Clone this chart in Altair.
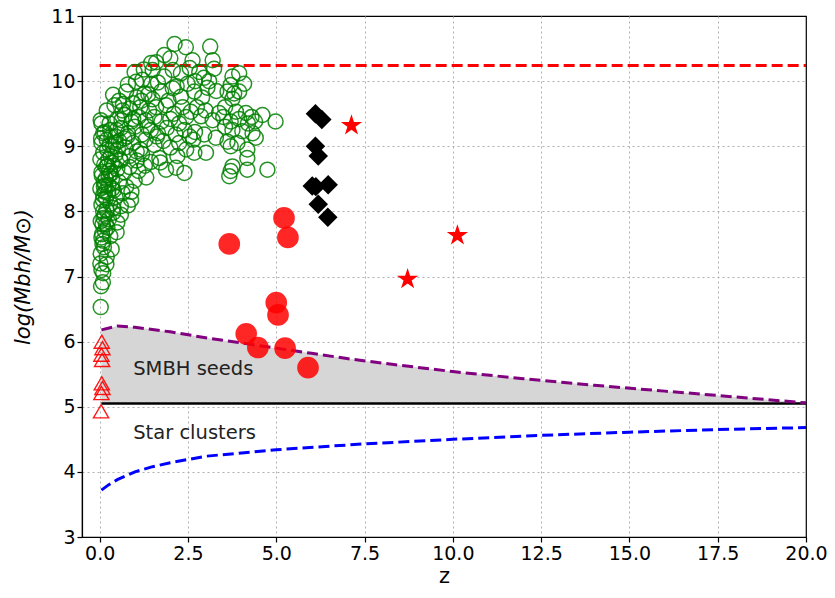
import altair as alt
import pandas as pd

# ---------------- data ----------------
# green open circles (quasar sample): redshift z, log mass
green_z = [
    2.12, 2.44, 3.13,
    1.83, 1.60, 2.63, 3.20, 1.46, 2.00,
    0.99, 1.25, 1.50, 2.07, 2.30, 2.82, 3.24, 1.83, 2.55, 2.95, 3.95, 3.76, 3.10,
    1.03, 1.21, 1.46, 2.49, 2.70, 4.09, 3.71, 0.80, 1.65, 2.18, 3.05,
    0.38, 0.75, 1.27, 1.74, 2.07, 2.30, 2.68, 3.62, 3.81, 3.95, 3.76, 0.55, 1.05, 1.50, 2.90, 3.30, 1.95,
    0.42, 0.94, 1.15, 1.88, 2.35, 0.20, 0.65, 1.40, 1.60, 2.10, 2.58, 2.75, 3.38, 3.86, 4.14, 3.55, 4.30, 3.00,
    0.28, 0.50, 0.71, 0.90, 1.10, 1.30, 1.55, 1.75, 2.00, 2.25, 2.45, 2.87, 3.20, 3.71, 3.95, 4.61, 4.98, 4.40, 3.50, 4.20,
    0.10, 0.30, 0.45, 0.60, 0.80, 1.00, 1.20, 1.45, 1.65, 1.90, 2.15, 2.40, 2.70, 2.96, 3.76, 4.04, 4.33, 3.55, 2.55, 1.35,
    0.05, 0.20, 0.38, 0.55, 0.72, 0.95, 1.15, 1.30, 1.55, 1.80, 2.00, 2.25, 2.45, 2.65, 3.29, 3.62, 3.71, 4.42, 4.18, 3.90,
    0.10, 0.25, 0.45, 0.60, 0.85, 1.05, 1.20, 1.69, 1.45, 2.68, 3.01, 4.18, 2.20, 0.35,
    0.05, 0.18, 0.32, 0.50, 0.70, 0.99, 1.32, 1.88, 2.16, 2.40, 3.71, 3.67, 4.18, 4.75, 3.76, 0.85, 1.10,
    0.02, 0.12, 0.25, 0.40, 0.55, 0.75, 0.90, 0.15, 0.35, 0.65,
    0.05, 0.18, 0.30, 0.45, 0.60, 0.89, 0.80, 0.10, 0.38,
    0.03, 0.14, 0.26, 0.50, 0.38, 0.08, 0.60,
    0.05, 0.15, 0.30, 0.48, 0.10, 0.22,
    0.03, 0.12, 0.34, 0.20, 0.08,
    0.05, 0.19, 0.10, 0.02,
    0.09, 0.04,
    0.03,
    # extra points in the dense column near z ~ 0.1
    0.06, 0.13, 0.21, 0.04, 0.16, 0.27, 0.09, 0.19, 0.02, 0.24, 0.11, 0.31, 0.07, 0.17,
    0.28, 0.14, 0.05, 0.22, 0.33, 0.10, 0.26, 0.03, 0.18, 0.40, 0.12, 0.36, 0.45, 0.52,
    0.62, 0.70, 0.58, 0.48, 0.66, 0.78, 0.85, 0.95, 1.05, 1.18, 1.28, 1.38, 1.62, 1.72,
]
green_m = [
    10.57, 10.52, 10.53,
    10.40, 10.29, 10.32, 10.32, 10.28, 10.35,
    10.14, 10.18, 10.17, 10.17, 10.12, 10.14, 10.19, 10.07, 10.20, 10.05, 10.12, 10.07, 10.00,
    9.99, 10.02, 9.96, 9.96, 10.00, 9.96, 9.94, 9.95, 9.98, 9.92, 9.90,
    9.79, 9.84, 9.81, 9.84, 9.89, 9.76, 9.84, 9.84, 9.81, 9.84, 9.73, 9.70, 9.75, 9.72, 9.75, 9.85, 9.70,
    9.63, 9.66, 9.60, 9.63, 9.60, 9.55, 9.55, 9.55, 9.60, 9.50, 9.53, 9.60, 9.51, 9.53, 9.51, 9.60, 9.45, 9.55,
    9.35, 9.42, 9.48, 9.38, 9.45, 9.40, 9.45, 9.38, 9.42, 9.35, 9.45, 9.46, 9.40, 9.38, 9.42, 9.48, 9.38, 9.38, 9.45, 9.35,
    9.20, 9.25, 9.15, 9.28, 9.20, 9.30, 9.18, 9.25, 9.20, 9.28, 9.18, 9.25, 9.22, 9.18, 9.25, 9.23, 9.20, 9.30, 9.15, 9.30,
    9.05, 9.10, 9.00, 9.08, 8.98, 9.05, 8.95, 9.10, 9.02, 9.08, 8.98, 9.05, 8.95, 9.10, 9.13, 9.07, 9.00, 9.13, 8.95, 9.05,
    8.90, 8.80, 8.88, 8.78, 8.85, 8.78, 8.88, 8.82, 8.76, 8.90, 8.90, 8.82, 8.85, 8.75,
    8.60, 8.68, 8.58, 8.65, 8.60, 8.47, 8.52, 8.64, 8.67, 8.59, 8.62, 8.54, 8.64, 8.64, 8.69, 8.68, 8.62,
    8.35, 8.45, 8.40, 8.32, 8.45, 8.38, 8.30, 8.30, 8.50, 8.28,
    8.10, 8.20, 8.12, 8.22, 8.08, 8.18, 8.09, 8.25, 8.05,
    7.85, 7.95, 7.88, 7.83, 7.98, 7.80, 7.95,
    7.60, 7.70, 7.62, 7.68, 7.55, 7.75,
    7.35, 7.45, 7.42, 7.30, 7.50,
    7.10, 7.19, 7.05, 7.20,
    6.91, 6.85,
    6.53,
    8.55, 8.72, 8.95, 9.12, 8.40, 8.62, 8.18, 8.02, 8.80, 8.28, 7.90, 8.85, 7.65, 8.50,
    9.02, 9.22, 9.35, 8.70, 9.15, 8.00, 8.55, 9.40, 7.80, 8.70, 8.38, 8.35, 9.05, 8.95,
    9.40, 9.12, 8.80, 9.25, 9.65, 9.15, 9.58, 9.42, 8.92, 9.70, 8.70, 9.80, 9.15, 8.75,
]

# red filled circles
red_z = [3.67, 5.22, 5.33, 5.00, 5.05, 4.15, 4.48, 5.25, 5.90]
red_m = [7.50, 7.90, 7.60, 6.60, 6.41, 6.12, 5.91, 5.90, 5.60]

# black diamonds
dia_z = [6.11, 6.29, 6.11, 6.19, 6.02, 6.12, 6.47, 6.19, 6.46]
dia_m = [9.50, 9.41, 9.00, 8.85, 8.39, 8.38, 8.41, 8.11, 7.91]

# red stars
star_z = [7.13, 8.72, 10.13]
star_m = [9.32, 6.96, 7.63]

# red open triangles
tri_z = [0.06, 0.08, 0.05, 0.07, 0.06, 0.08, 0.05, 0.04]
tri_m = [6.00, 5.90, 5.80, 5.72, 5.36, 5.29, 5.21, 4.93]

# SMBH seed upper boundary (purple dashed)
seed_z = [0.05, 0.5, 1.0, 2.0, 3.0, 4.0, 5.0, 6.0, 7.0, 8.0, 10.0, 12.0, 14.0, 16.0, 18.0, 20.0]
seed_m = [6.18, 6.24, 6.22, 6.15, 6.06, 5.98, 5.90, 5.82, 5.74, 5.67, 5.54, 5.43, 5.33, 5.24, 5.15, 5.06]

# star-cluster curve (blue dashed)
clus_z = [0.05, 0.25, 0.5, 1.0, 1.5, 2.0, 3.0, 5.0, 7.5, 10.0, 12.5, 15.0, 17.5, 20.0]
clus_m = [3.72, 3.80, 3.88, 4.00, 4.08, 4.14, 4.24, 4.34, 4.43, 4.50, 4.56, 4.61, 4.65, 4.68]

upper_limit = 10.24
seed_floor = 5.05

labels_text = ["SMBH seeds", "Star clusters"]
labels_z = [0.95, 0.95]
labels_m = [5.58, 4.60]

# five-pointed star symbol in the unit square
STAR_PATH = ("M0,-1L0.2245,-0.309L0.951,-0.309L0.3633,0.118L0.588,0.809L0,0.382"
             "L-0.588,0.809L-0.3633,0.118L-0.951,-0.309L-0.2245,-0.309Z")

# ---------------- chart ----------------
FONT = "DejaVu Sans"
xs = alt.Scale(domain=[-0.5, 20], nice=False, zero=False)
ys = alt.Scale(domain=[3, 11], nice=False, zero=False)

xax = alt.Axis(values=[0, 2.5, 5, 7.5, 10, 12.5, 15, 17.5, 20], format=".1f", title="z",
               titlePadding=2, labelFlush=False,
               gridOpacity={"condition": {"test": "datum.value >= 20", "value": 0}, "value": 1})
yax = alt.Axis(values=list(range(3, 12)), format="d", title="log(Mbh/M⊙)", titleFontStyle="italic",
               minExtent=32, maxExtent=32, titlePadding=17, labelFlush=False,
               gridOpacity={"condition": {"test": "datum.value >= 11 || datum.value <= 3", "value": 0},
                            "value": 1})


def X(f):
    return alt.X(f, type="quantitative", scale=xs, axis=xax)


def Y(f):
    return alt.Y(f, type="quantitative", scale=ys, axis=yax)


seed_df = pd.DataFrame({"z": seed_z, "m": seed_m, "floor": [seed_floor] * len(seed_z)})
area = alt.Chart(seed_df).mark_area(color="#d6d6d6", opacity=1).encode(
    x=X("z"), y=Y("m"), y2="floor")

hlines_df = pd.DataFrame({"x": [0.0], "x2": [20.0], "y": [upper_limit]})
red_rule = alt.Chart(hlines_df).mark_rule(color="red", strokeWidth=3, strokeDash=[11, 5]).encode(
    x=X("x"), x2="x2", y=Y("y"))

black_df = pd.DataFrame({"x": [0.05], "x2": [20.0], "y": [seed_floor]})
black_rule = alt.Chart(black_df).mark_rule(color="black", strokeWidth=2.5).encode(
    x=X("x"), x2="x2", y=Y("y"))

seed_line = alt.Chart(seed_df).mark_line(color="purple", strokeWidth=3, strokeDash=[11, 5]).encode(
    x=X("z"), y=Y("m"))

clus_df = pd.DataFrame({"z": clus_z, "m": clus_m})
clus_line = alt.Chart(clus_df).mark_line(color="blue", strokeWidth=3, strokeDash=[11, 5]).encode(
    x=X("z"), y=Y("m"))

green = alt.Chart(pd.DataFrame({"z": green_z, "m": green_m})).mark_point(
    shape="circle", filled=False, color="green", size=225, strokeWidth=1.5, opacity=0.85).encode(
    x=X("z"), y=Y("m"))

tri = alt.Chart(pd.DataFrame({"z": tri_z, "m": tri_m})).mark_point(
    shape="triangle-up", filled=False, color="red", size=230, strokeWidth=1.4, opacity=0.9).encode(
    x=X("z"), y=Y("m"))

red = alt.Chart(pd.DataFrame({"z": red_z, "m": red_m})).mark_point(
    shape="circle", filled=True, color="red", size=470, opacity=0.85).encode(
    x=X("z"), y=Y("m"))

dia = alt.Chart(pd.DataFrame({"z": dia_z, "m": dia_m})).mark_point(
    shape="diamond", filled=True, color="black", size=380, opacity=1).encode(
    x=X("z"), y=Y("m"))

star = alt.Chart(pd.DataFrame({"z": star_z, "m": star_m})).mark_point(
    shape=STAR_PATH, filled=True, color="red", size=500, opacity=1).encode(
    x=X("z"), y=Y("m"))

txt = alt.Chart(pd.DataFrame({"label": labels_text, "z": labels_z, "m": labels_m})).mark_text(
    align="left", baseline="middle", font=FONT, fontSize=19.5, color="#222222").encode(
    x=X("z"), y=Y("m"), text=alt.Text("label:N"))

chart = alt.layer(area, red_rule, black_rule, seed_line, clus_line, green, tri, red, dia, star, txt).properties(
    width=724, height=521, autosize="none",
    padding={"left": 74, "top": 8, "right": 21, "bottom": 50},
).configure_view(stroke="black", strokeWidth=1.2).configure_axis(
    labelFont=FONT, labelFontSize=19, labelColor="black",
    titleFont=FONT, titleFontSize=21, titleColor="black", titleFontWeight="normal",
    domainColor="black", domainWidth=1.2, tickColor="black", tickSize=5, tickWidth=1.2,
    gridColor="#b0b0b0", gridDash=[2, 3], gridWidth=1, labelPadding=2,
)

chart.save("out.html", embed_options={"renderer": "svg", "actions": False})
